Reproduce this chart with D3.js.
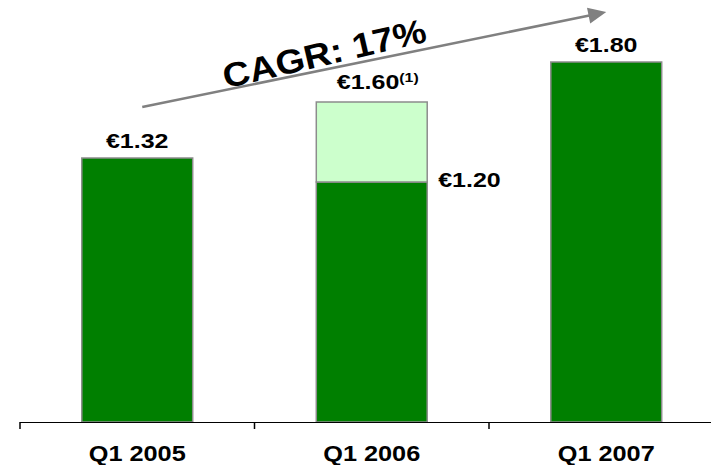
<!DOCTYPE html>
<html>
<head>
<meta charset="utf-8">
<script src="https://cdn.jsdelivr.net/npm/d3@7"></script>
<style>
  html, body { margin: 0; padding: 0; background: #fff; }
  svg { display: block; }
  text { font-family: "Liberation Sans", Arial, sans-serif; font-weight: bold; fill: #000; }
</style>
</head>
<body>
<svg id="chart" width="711" height="465"></svg>
<script>
// Quarterly values (EUR)
const categories = ["Q1 2005", "Q1 2006", "Q1 2007"];
const baseValues = [1.32, 1.20, 1.80];
const extraValues = [0, 0.40, 0];
const totalLabels = ["€1.32", "€1.60", "€1.80"];
const totalNotes = ["", "(1)", ""];
const baseLabel = { index: 1, text: "€1.20" };
const cagrText = "CAGR: 17%";

const svg = d3.select("#chart");
const W = 711, H = 465;
const baseY = 422;

const x = d3.scaleBand()
  .domain(categories)
  .range([20, 723.5])
  .paddingInner(0.527)
  .paddingOuter(0.2635);

const y = d3.scaleLinear()
  .domain([0, 1.8])
  .range([baseY, 62]);

const totals = baseValues.map((v, i) => v + extraValues[i]);

// Bars: dark base segment
svg.append("g").selectAll("rect.base")
  .data(categories)
  .join("rect")
  .attr("class", "base")
  .attr("x", d => x(d))
  .attr("width", x.bandwidth())
  .attr("y", (d, i) => y(baseValues[i]))
  .attr("height", (d, i) => y(0) - y(baseValues[i]))
  .attr("fill", "#007f00")
  .attr("stroke", "#8c8c8c")
  .attr("stroke-width", 1.5);

// Bars: light top segment
svg.append("g").selectAll("rect.extra")
  .data(categories.filter((d, i) => extraValues[i] > 0))
  .join("rect")
  .attr("class", "extra")
  .attr("x", d => x(d))
  .attr("width", x.bandwidth())
  .attr("y", d => y(totals[categories.indexOf(d)]))
  .attr("height", d => {
    const i = categories.indexOf(d);
    return y(baseValues[i]) - y(totals[i]);
  })
  .attr("fill", "#ccffcc")
  .attr("stroke", "#8c8c8c")
  .attr("stroke-width", 1.5);

// Category axis: baseline plus ticks at band boundaries
const axis = svg.append("g");
const step = x.step();
axis.append("line")
  .attr("x1", x(categories[0]) - x.paddingOuter() * step)
  .attr("x2", W)
  .attr("y1", baseY + 0.5).attr("y2", baseY + 0.5)
  .attr("stroke", "#000").attr("stroke-width", 1.2);
axis.selectAll("line.tick")
  .data(categories)
  .join("line")
  .attr("class", "tick")
  .attr("x1", d => x(d) - x.paddingOuter() * step)
  .attr("x2", d => x(d) - x.paddingOuter() * step)
  .attr("y1", baseY).attr("y2", baseY + 7)
  .attr("stroke", "#000").attr("stroke-width", 1.5);

function stretchedText(sel, tx, ty, size, sx) {
  return sel.append("text")
    .attr("transform", `translate(${tx},${ty}) scale(${sx},1)`)
    .style("font-size", size + "px");
}

// Category labels
categories.forEach(c => {
  stretchedText(svg, x(c) + x.bandwidth() / 2, 461, 22, 1.15)
    .attr("text-anchor", "middle")
    .text(c);
});

// Total value labels above bars
categories.forEach((c, i) => {
  const t = stretchedText(svg, x(c) + x.bandwidth() / 2 + (totalNotes[i] ? 6 : 0),
      y(totals[i]) - (totalNotes[i] ? 13 : 10), 20.5, 1.22)
    .attr("text-anchor", "middle");
  t.append("tspan").text(totalLabels[i]);
  if (totalNotes[i]) {
    t.append("tspan")
      .attr("dy", -7)
      .style("font-size", "13px")
      .text(totalNotes[i]);
  }
});

// Base segment label to the right of the stacked bar
{
  const c = categories[baseLabel.index];
  stretchedText(svg, x(c) + x.bandwidth() + 11, y(baseValues[baseLabel.index]) + 5, 20.5, 1.22)
    .attr("text-anchor", "start")
    .text(baseLabel.text);
}

// Growth arrow from the first total to the last total
const x0 = x(categories[0]) + x.bandwidth() / 2 + 5;
const y0 = y(totals[0]) - 51;
const x1 = x(categories[2]) + x.bandwidth() / 2;
const y1 = y(totals[2]) - 50;
const ang = Math.atan2(y1 - y0, x1 - x0);
const headLen = 18, headHalf = 8;
const bx = x1 - headLen * Math.cos(ang), by = y1 - headLen * Math.sin(ang);
svg.append("line")
  .attr("x1", x0).attr("y1", y0)
  .attr("x2", bx + 2 * Math.cos(ang)).attr("y2", by + 2 * Math.sin(ang))
  .attr("stroke", "#808080").attr("stroke-width", 2.6);
svg.append("path")
  .attr("d", d3.line()([
    [x1, y1],
    [bx - headHalf * Math.sin(ang), by + headHalf * Math.cos(ang)],
    [bx + headHalf * Math.sin(ang), by - headHalf * Math.cos(ang)]
  ]) + "Z")
  .attr("fill", "#808080");

// CAGR annotation along the arrow
const deg = ang * 180 / Math.PI;
svg.append("text")
  .attr("transform", `translate(327,65) rotate(${deg - 1.5}) scale(1.1,1)`)
  .attr("text-anchor", "middle")
  .style("font-size", "34px")
  .text(cagrText);
</script>
</body>
</html>
